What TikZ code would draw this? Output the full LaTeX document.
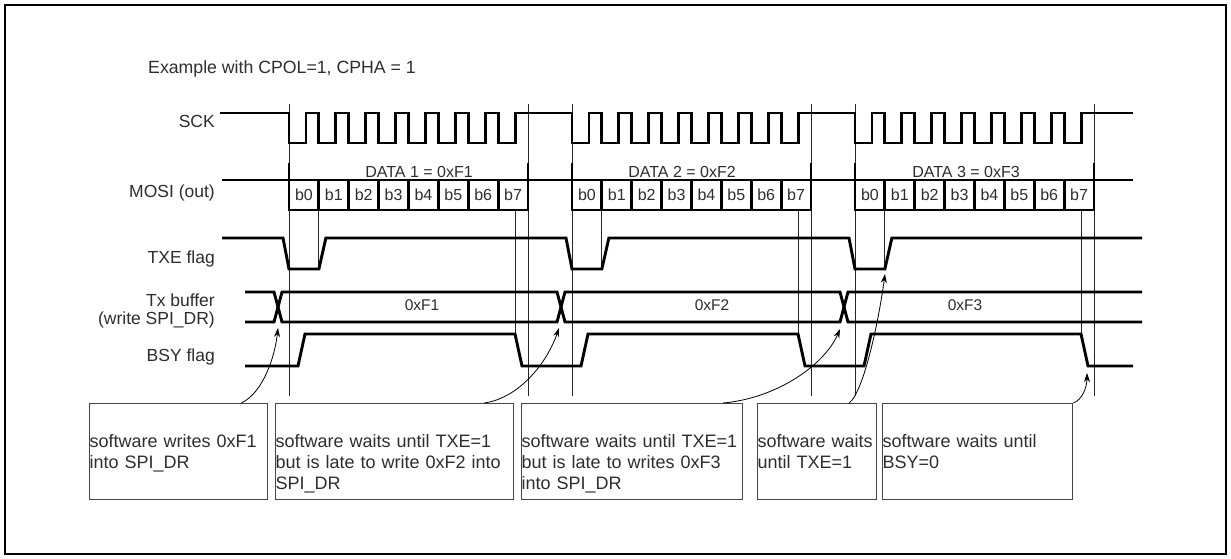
\documentclass[tikz,border=0pt]{standalone}
\usepackage{fontspec}
\setmainfont{Liberation Sans}
\usepackage{tikz}
\usetikzlibrary{arrows.meta}
\definecolor{cinzatexto}{RGB}{45,45,45}
\definecolor{cinzaborda}{RGB}{70,70,70}

\begin{document}
\begin{tikzpicture}[
	x=1pt, y=-1pt,
	font=\fontsize{17.5}{18}\selectfont,
	>={Stealth[length=9pt,width=6pt]},
	sinal/.style={line width=2.9pt, line join=miter},
	guia/.style={line width=0.8pt, black!85},
	rotulo/.style={anchor=base east, inner sep=0pt, text=cinzatexto},
	bit/.style={anchor=base, inner sep=0pt, text=cinzatexto, font=\fontsize{16}{18}\selectfont},
	caixa/.style={draw=cinzaborda, line width=1.2pt, anchor=north west, inner sep=0pt, text width=#1, align=left, text height=44pt, text depth=52pt, text=cinzatexto, font=\fontsize{18}{21}\selectfont},
	seta/.style={->, line width=0.8pt},
]
\useasboundingbox (0,0) rectangle (1231,559);
\draw[line width=1.8pt] (5,5) rectangle (1226,554);

\node[anchor=base west, inner sep=0pt, text=cinzatexto, font=\fontsize{17.7}{20}\selectfont] (titulo) at (148,74) {Example with CPOL=1, CPHA = 1};

\node[rotulo] (sck) at (215,128) {SCK};
\node[rotulo] (mosi) at (215,197) {MOSI (out)};
\node[rotulo] (txe) at (215,263) {TXE flag};
\node[rotulo, anchor=east, align=right] (txbuf) at (215,311) {Tx buffer\\(write SPI\_DR)};
\node[rotulo] (bsy) at (215,361) {BSY flag};

\foreach \s in {289,572,855} {
	\draw[guia] (\s,104) -- (\s,396);
	\draw[guia] (\s+239,104) -- (\s+239,396);
	\draw[guia] (\s+29.875,210) -- (\s+29.875,269);
	\draw[guia] (\s+226,210) -- (\s+226,334);
}

\draw[sinal] (220,113) \foreach \s in {289,572,855}{ -- (\s,113)
	\foreach \k in {0,...,6}{ -- ++(0,30) -- ++(17,0) -- ++(0,-30) -- ++(12.875,0) }
	-- ++(0,30) -- ++(17,0) -- ++(0,-30) } -- (1133,113);

\draw[sinal] (222,180) -- (1133,180);
\foreach \s/\x/\n in {289/419/1, 572/682/2, 855/966/3} {
	\draw[sinal] (\s,163) -- (\s,210) -- (\s+239,210) -- (\s+239,163);
	\foreach \k in {1,...,7} \draw[sinal] (\s+\k*29.875,180) -- ++(0,30);
	\foreach \k in {0,...,7} \node[bit] (b\n\k) at (\s+\k*29.875+14.94,200.5) {b\k};
	\node[bit] (dado\n) at (\x,177) {DATA \n{} = 0xF\n};
}

\draw[sinal] (222,238) \foreach \s in {289,572,855}{ -- (\s-6,238) -- (\s,269) -- (\s+29.875,269) -- (\s+36.875,238) } -- (1142,238);

\draw[sinal] (245,292) -- (274,292) -- (282,322) -- (557,322) -- (565,292) -- (840,292) -- (848,322) -- (1142,322);
\draw[sinal] (245,322) -- (274,322) -- (282,292) -- (557,292) -- (565,322) -- (840,322) -- (848,292) -- (1142,292);
\foreach \x/\n in {422/1, 712/2, 965/3}
	\node[bit, font=\fontsize{15.5}{18}\selectfont] (v\n) at (\x,310) {0xF\n};

\draw[sinal] (245,366) \foreach \s in {289,572,855}{ -- (\s+9,366) -- (\s+16,334) -- (\s+226,334) -- (\s+233,366) } -- (1133,366);

\node[caixa=178pt] (sw1) at (89,403) {software writes 0xF1\\into SPI\_DR};
\node[caixa=238pt] (sw2) at (275,403) {software waits until TXE=1\\but is late to write 0xF2 into\\SPI\_DR};
\node[caixa=221pt] (sw3) at (521,403) {software waits until TXE=1\\but is late to writes 0xF3\\into SPI\_DR};
\node[caixa=119pt] (sw4) at (757,403) {software waits\\until TXE=1};
\node[caixa=190pt] (sw5) at (882,403) {software waits until\\BSY=0};

\coordinate (x1) at (278,328);
\coordinate (x2) at (559,328);
\coordinate (x3) at (840,329);
\coordinate (r3) at (885,274);
\coordinate (q3) at (1087,373);

\draw[seta] ([xshift=-27pt]sw1.north east) .. controls +(22,-10) and +(-3,28) .. (x1);
\draw[seta] ([xshift=-30pt]sw2.north east) .. controls +(35,-5) and +(-12,35) .. (x2);
\draw[seta] ([xshift=-20pt]sw3.north east) .. controls +(55,-5) and +(-15,35) .. (x3);
\draw[seta] ([xshift=-28pt]sw4.north east) .. controls +(15,-12) and +(-6,45) .. (r3);
\draw[seta] (sw5.north east) .. controls +(9,-3) and +(0,14) .. (q3);
\end{tikzpicture}
\end{document}
